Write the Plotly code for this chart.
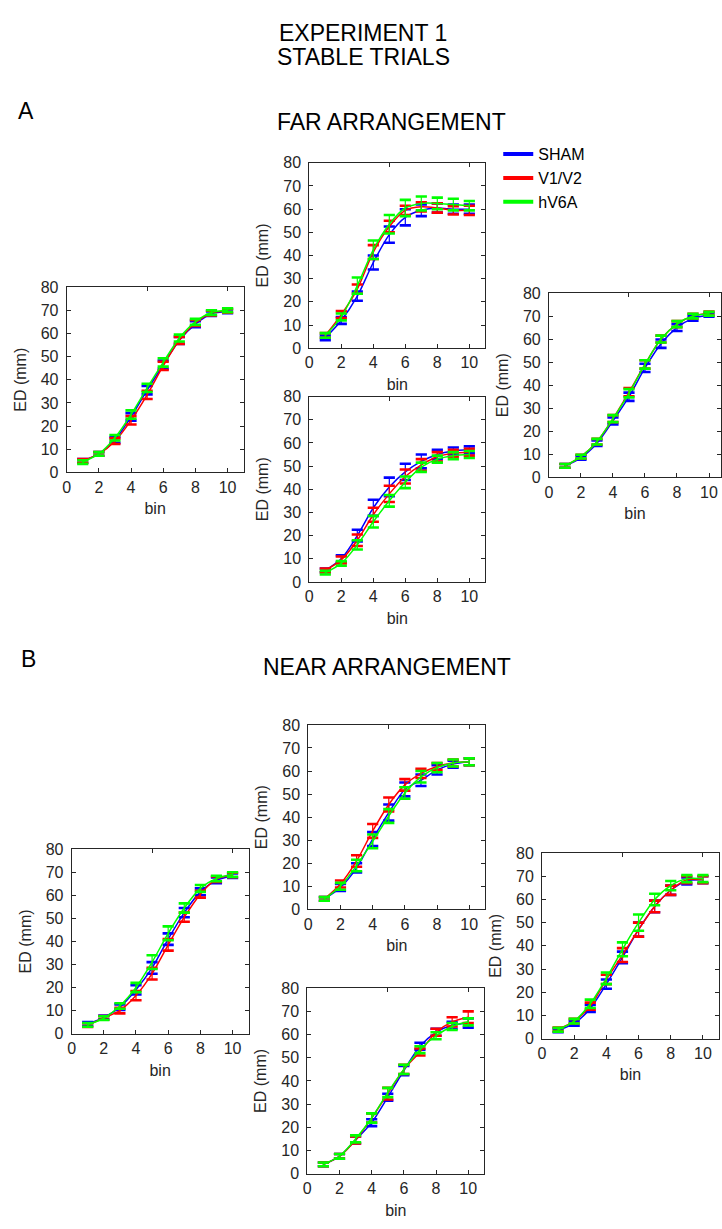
import plotly.graph_objects as go

# ---------------- data: mean ED (mm) per bin, with SEM ----------------
bins = [1, 2, 3, 4, 5, 6, 7, 8, 9, 10]
groups = ["SHAM", "V1/V2", "hV6A"]

# Experiment 1, FAR arrangement
far_left_sham = [5, 8, 14, 24, 35.5, 46.5, 57, 64, 68.5, 69.5]
far_left_v1v2 = [5, 8, 13.5, 22.5, 33.5, 46, 57, 64.5, 68.8, 69.8]
far_left_hv6a = [4.5, 8, 15, 25, 36.5, 47.5, 58, 65, 69, 70]
far_left_sham_err = [0.8, 0.8, 1.2, 1.6, 1.8, 1.8, 1.5, 1.3, 1.0, 0.8]
far_left_v1v2_err = [0.8, 0.8, 1.2, 1.8, 1.8, 1.8, 1.5, 1.3, 1.0, 0.8]
far_left_hv6a_err = [0.8, 0.8, 1.2, 1.8, 1.8, 1.8, 1.5, 1.3, 1.0, 0.8]

far_top_sham = [4.5, 12, 22.5, 37, 49, 56.5, 59.5, 60.5, 60, 60]
far_top_v1v2 = [5.5, 14.5, 25.5, 41.5, 52.5, 59.5, 61, 60.5, 59.5, 59.5]
far_top_hv6a = [5.5, 13.5, 27, 42.5, 53.5, 60.5, 62.5, 62.5, 62, 61.5]
far_top_sham_err = [1, 1.5, 2, 3, 3.5, 3.5, 2.5, 2, 2, 2]
far_top_v1v2_err = [1, 1.5, 2, 3, 2.5, 2, 2, 2, 1.8, 2]
far_top_hv6a_err = [1, 1.5, 3.5, 4, 4, 3.5, 3, 2.5, 2.5, 2]

far_bottom_sham = [5, 10, 20, 32, 41, 47.5, 52, 55, 56.5, 57]
far_bottom_v1v2 = [5, 9.5, 18, 29, 38, 45.5, 50.5, 54, 55.5, 56]
far_bottom_hv6a = [4, 8, 16, 26, 35, 43, 49.5, 53, 54.5, 55]
far_bottom_sham_err = [0.8, 1.5, 2.5, 3.5, 4, 3.5, 3, 2, 1.5, 1.5]
far_bottom_v1v2_err = [0.8, 1.5, 2.5, 3, 3.5, 3, 2.5, 2, 1.5, 1.5]
far_bottom_hv6a_err = [0.8, 1, 2, 2.5, 2.5, 2.5, 2, 1.5, 1.5, 1.5]

far_right_sham = [5, 8.5, 14.8, 24.5, 35, 47.5, 58, 65, 69, 70.5]
far_right_v1v2 = [5, 9, 15.5, 25.5, 37, 49, 60, 66.5, 70, 71.2]
far_right_hv6a = [5, 9, 15.5, 25.5, 36.5, 49, 60, 66.5, 70, 71]
far_right_sham_err = [0.8, 0.8, 1.2, 1.5, 1.8, 1.8, 1.8, 1.5, 1.0, 0.8]
far_right_v1v2_err = [0.8, 0.8, 1.2, 1.5, 1.8, 1.8, 1.5, 1.3, 1.0, 0.8]
far_right_hv6a_err = [0.8, 0.8, 1.2, 1.5, 1.8, 1.8, 1.5, 1.3, 1.0, 0.8]

# Experiment 1, NEAR arrangement
near_left_sham = [4.2, 7, 11.5, 19, 28.5, 41, 52.5, 61.5, 66.5, 68.5]
near_left_v1v2 = [3.7, 6.8, 10, 16.5, 26, 38.5, 50.5, 60.5, 67, 68.8]
near_left_hv6a = [3.8, 6.7, 12, 20, 31, 43.5, 54.5, 63, 67.3, 69]
near_left_sham_err = [0.8, 0.8, 1.2, 2, 2.5, 2.5, 2, 1.5, 1.2, 1]
near_left_v1v2_err = [0.8, 0.8, 1.2, 2, 2.5, 2.5, 2, 1.5, 1.2, 1]
near_left_hv6a_err = [0.8, 0.8, 1.2, 2, 3, 3, 2, 1.5, 1.2, 1]

near_top_sham = [4.5, 9.5, 18, 30.5, 42, 52, 56, 60.5, 63, 64]
near_top_v1v2 = [4.5, 11, 21, 34, 45.5, 54, 59, 62, 63.5, 64]
near_top_hv6a = [4.5, 10, 19, 29.5, 40.5, 50.5, 57.5, 61.5, 63.5, 64]
near_top_sham_err = [0.8, 1.5, 2, 3, 3.5, 3, 2.5, 2, 1.5, 1.5]
near_top_v1v2_err = [0.8, 1.5, 2.5, 3, 3, 2.5, 2, 1.5, 1.5, 1.5]
near_top_hv6a_err = [0.8, 1.5, 2.5, 3, 3, 2.5, 2.5, 2, 1.5, 1.5]

near_bottom_sham = [4, 7.5, 14.5, 22, 33, 44.5, 55, 61, 64, 65]
near_bottom_v1v2 = [4, 7.5, 14.5, 24, 34.5, 45, 52.5, 61, 65.5, 67.5]
near_bottom_hv6a = [4, 7.5, 15, 24, 35, 45, 53.5, 59.5, 63.5, 65.5]
near_bottom_sham_err = [0.8, 1, 1.5, 1.5, 1.5, 2, 1.5, 1.5, 1.5, 2]
near_bottom_v1v2_err = [0.8, 1, 1.5, 2, 2.5, 2, 1.5, 1.5, 2, 2.5]
near_bottom_hv6a_err = [0.8, 1, 1.5, 2, 2, 2, 1.5, 1.5, 1.5, 1.5]

near_right_sham = [3.5, 6.5, 13, 23.5, 35, 47, 57, 64, 68, 68.5]
near_right_v1v2 = [4, 7.5, 14, 25.5, 36, 47, 57, 64, 68.5, 68.5]
near_right_hv6a = [3.8, 7.5, 15, 26, 38.5, 50, 60, 66, 69, 69]
near_right_sham_err = [0.8, 1, 1.5, 2, 2.5, 3, 2.5, 2, 1.5, 1.5]
near_right_v1v2_err = [0.8, 1, 1.5, 2, 3, 3, 2.5, 2, 1.5, 1.5]
near_right_hv6a_err = [0.8, 1, 1.8, 2.5, 3, 3.5, 2.5, 2, 1.5, 1.5]

x_ticks = [0, 2, 4, 6, 8, 10]
y_ticks = [0, 10, 20, 30, 40, 50, 60, 70, 80]
top_ticks = [0, 5, 10]

# ---------------- styling ----------------
W, H = 722, 1229
colors = ["#0000FF", "#FF0000", "#00FF00"]
ink = "#262626"
tick_font = dict(family="Liberation Sans, Arial, sans-serif", size=16, color=ink)
head_font = dict(family="Liberation Sans Narrow, Arial Narrow, Liberation Sans, sans-serif",
                 size=23, color="#000000")

# panel boxes in pixels: left, right, top, bottom, x-axis max
panels = [
    dict(series=(far_left_sham, far_left_v1v2, far_left_hv6a),
         errs=(far_left_sham_err, far_left_v1v2_err, far_left_hv6a_err),
         box=(63, 241, 283, 471), xmax=11),
    dict(series=(far_top_sham, far_top_v1v2, far_top_hv6a),
         errs=(far_top_sham_err, far_top_v1v2_err, far_top_hv6a_err),
         box=(307, 484, 157, 345), xmax=11),
    dict(series=(far_bottom_sham, far_bottom_v1v2, far_bottom_hv6a),
         errs=(far_bottom_sham_err, far_bottom_v1v2_err, far_bottom_hv6a_err),
         box=(307, 484, 394, 582), xmax=11),
    dict(series=(far_right_sham, far_right_v1v2, far_right_hv6a),
         errs=(far_right_sham_err, far_right_v1v2_err, far_right_hv6a_err),
         box=(548, 721, 289, 476), xmax=10.75),
    dict(series=(near_left_sham, near_left_v1v2, near_left_hv6a),
         errs=(near_left_sham_err, near_left_v1v2_err, near_left_hv6a_err),
         box=(68, 246, 853, 1040), xmax=11),
    dict(series=(near_top_sham, near_top_v1v2, near_top_hv6a),
         errs=(near_top_sham_err, near_top_v1v2_err, near_top_hv6a_err),
         box=(306, 484, 727, 914), xmax=11),
    dict(series=(near_bottom_sham, near_bottom_v1v2, near_bottom_hv6a),
         errs=(near_bottom_sham_err, near_bottom_v1v2_err, near_bottom_hv6a_err),
         box=(305, 483, 994, 1182), xmax=11),
    dict(series=(near_right_sham, near_right_v1v2, near_right_hv6a),
         errs=(near_right_sham_err, near_right_v1v2_err, near_right_hv6a_err),
         box=(541, 719, 857, 1045), xmax=11),
]

fig = go.Figure()
layout = {}
n = len(panels)

for i, p in enumerate(panels):
    k = i + 1
    xs = "" if k == 1 else str(k)
    left, right, top, bottom = p["box"]
    xdom = [left / W, right / W]
    ydom = [1 - bottom / H, 1 - top / H]

    for name, y, e, c in zip(groups, p["series"], p["errs"], colors):
        # mean curve with thin SEM whiskers
        fig.add_trace(go.Scatter(
            x=bins, y=y, mode="lines",
            line=dict(color=c, width=1.5, shape="spline", smoothing=0.8),
            error_y=dict(type="data", array=e, visible=True, color=c,
                         thickness=1.2, width=0),
            name=name, showlegend=False, hoverinfo="skip",
            xaxis="x" + xs, yaxis="y" + xs,
        ))
        # bold caps at mean +/- SEM
        cap_y = [m + s for m, s in zip(y, e)] + [m - s for m, s in zip(y, e)]
        fig.add_trace(go.Scatter(
            x=bins + bins, y=cap_y, mode="markers",
            marker=dict(symbol="line-ew", size=8, line=dict(color=c, width=2.6)),
            showlegend=False, hoverinfo="skip",
            xaxis="x" + xs, yaxis="y" + xs,
        ))

    layout["xaxis" + xs] = dict(
        domain=xdom, anchor="y" + xs, range=[0, p["xmax"]],
        tickvals=x_ticks, ticks="inside", ticklen=4, tickcolor=ink,
        showline=True, linecolor=ink, linewidth=1, mirror=True,
        showgrid=False, zeroline=False, tickfont=tick_font,
        title=dict(text="bin", font=tick_font, standoff=8),
    )
    layout["yaxis" + xs] = dict(
        domain=ydom, anchor="x" + xs, range=[0, 80],
        tickvals=y_ticks, ticks="inside", ticklen=4, tickcolor=ink,
        ticklabelstandoff=4,
        showline=True, linecolor=ink, linewidth=1, mirror="ticks",
        showgrid=False, zeroline=False, tickfont=tick_font,
        title=dict(text="ED (mm)", font=tick_font, standoff=10),
    )
    # upper frame carries its own ticks at 0, 5 and 10
    kt = n + k
    layout["xaxis" + str(kt)] = dict(
        overlaying="x" + xs, anchor="y" + xs, side="top", range=[0, p["xmax"]],
        tickvals=top_ticks, ticks="inside", ticklen=4, tickcolor=ink,
        showticklabels=False, showline=False, showgrid=False, zeroline=False,
    )
    fig.add_trace(go.Scatter(x=[None], y=[None], xaxis="x" + str(kt), yaxis="y" + xs,
                             showlegend=False, hoverinfo="skip"))

# legend entries
for name, c in zip(groups, colors):
    fig.add_trace(go.Scatter(x=[None], y=[None], mode="lines",
                             line=dict(color=c, width=4), name=name))

annotations = [
    dict(text="EXPERIMENT 1", x=361, y=25),
    dict(text="STABLE TRIALS", x=361, y=50),
    dict(text="A", x=22, y=104),
    dict(text="FAR ARRANGEMENT", x=390, y=116),
    dict(text="B", x=25, y=660),
    dict(text="NEAR ARRANGEMENT", x=385, y=668),
]
layout["annotations"] = [
    dict(text=a["text"], x=a["x"] / W, y=1 - a["y"] / H, xref="paper", yref="paper",
         xanchor="center", yanchor="middle", showarrow=False, font=head_font)
    for a in annotations
]

fig.update_layout(
    width=W, height=H, margin=dict(l=0, r=0, t=0, b=0),
    paper_bgcolor="white", plot_bgcolor="white",
    showlegend=True,
    legend=dict(x=497 / W, y=1 - 131 / H, xanchor="left", yanchor="top",
                font=dict(family="Liberation Sans, Arial, sans-serif", size=16, color="#000000"),
                bgcolor="rgba(0,0,0,0)", itemwidth=30, tracegroupgap=0),
    **layout,
)

fig.write_html("out.html")
